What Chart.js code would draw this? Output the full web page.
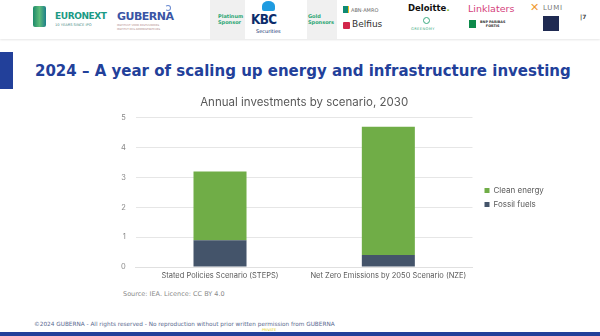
<!DOCTYPE html>
<html>
<head>
<meta charset="utf-8">
<script src="https://cdn.jsdelivr.net/npm/chart.js@4/dist/chart.umd.min.js"></script>
<style>
  html, body { margin: 0; padding: 0; }
  body { width: 600px; height: 336px; position: relative; overflow: hidden; background: #fff; font-family: "DejaVu Sans", Verdana, sans-serif; }
  .abs { position: absolute; white-space: nowrap; }
  .hdr { left: 0; top: 0; width: 600px; height: 39px; background: #fff; box-shadow: 0 1px 2px rgba(0,0,0,0.10); }
  .sponsorbox { background: #f0f0f0; color: #2aa672; font-weight: bold; font-size: 5px; line-height: 5.5px; text-align: left; }
  #title { left: 35px; top: 62px; font-size: 15px; font-weight: bold; color: #22409a; }
  #leftbar { left: 0; top: 52px; width: 13px; height: 37px; background: #22409a; }
  #chartwrap { left: 100px; top: 92px; width: 452px; height: 192px; }
  #source { left: 123px; top: 290px; font-size: 6.5px; color: #8a8a8a; }
  #footer { left: 34px; top: 321px; font-size: 5.75px; color: #5a6a90; }
  #private { left: 262px; top: 328px; font-size: 3.5px; color: #e8d200; }
  #bottombar { left: 0; top: 332px; width: 600px; height: 4px; background: #22409a; }
</style>
</head>
<body>
<div class="abs hdr"></div>
<!-- header logos, rough -->
<div class="abs" style="left:33px;top:6px;width:13px;height:21px;background:linear-gradient(90deg,#1d8a6a,#5dbb7a 50%,#1d7f8a);border-radius:2px;"></div>
<div class="abs" style="left:55px;top:11px;font-size:9px;font-weight:bold;color:#1b9a85;letter-spacing:-0.4px;">EURONEXT</div>
<div class="abs" style="left:55px;top:23px;font-size:3.6px;color:#4a8a86;">10 YEARS SINCE IPO</div>
<div class="abs" style="left:117px;top:10px;font-size:11px;font-weight:bold;color:#3a55a5;letter-spacing:-0.5px;">GUBERNA</div>
<div class="abs" style="left:117px;top:24px;font-size:2.6px;line-height:3.8px;color:#b08a8a;">INSTITUUT VOOR BESTUURDERS<br>INSTITUT DES ADMINISTRATEURS</div>
<div class="abs" style="left:165px;top:5px;width:4px;height:4px;border:1.5px solid #6a8ad0;border-radius:50%;border-left-color:transparent;"></div>
<div class="abs sponsorbox" style="left:210px;top:0;width:35px;height:39px;"><div style="padding:14px 0 0 8px;">Platinum<br>Sponsor</div></div>
<div class="abs" style="left:262px;top:1px;width:13px;height:10px;background:#1f9be0;border-radius:50% 50% 2px 2px;"></div>
<div class="abs" style="left:251px;top:13px;font-size:12px;font-weight:bold;color:#0b2d6c;letter-spacing:-0.6px;transform:scaleY(1.1);">KBC</div>
<div class="abs" style="left:256px;top:28px;font-size:5px;color:#0b2d6c;">Securities</div>
<div class="abs sponsorbox" style="left:307px;top:0;width:30px;height:39px;"><div style="padding:14px 0 0 1px;">Gold<br>Sponsors</div></div>
<div class="abs" style="left:343px;top:6px;width:5px;height:7px;background:#0e8a74;border-right:1px solid #e8c020;"></div>
<div class="abs" style="left:351px;top:7px;font-size:5px;color:#6a6a6a;">ABN·AMRO</div>
<div class="abs" style="left:343px;top:22px;width:7px;height:7px;background:#d2264a;border-radius:1px;"></div>
<div class="abs" style="left:352px;top:19px;font-size:9px;color:#333;">Belfius</div>
<div class="abs" style="left:408px;top:3px;font-size:8.5px;font-weight:bold;color:#111;">Deloitte<span style="color:#86bc25">.</span></div>
<div class="abs" style="left:423px;top:17px;width:5px;height:5px;border:1px solid #3aaa80;border-radius:50%;"></div>
<div class="abs" style="left:411px;top:26.5px;font-size:3.6px;color:#3aaa80;letter-spacing:0.4px;">GREENOMY</div>
<div class="abs" style="left:468px;top:3px;font-size:9.5px;color:#d4417b;">Linklaters</div>
<div class="abs" style="left:469px;top:20px;width:7px;height:8px;background:#0d8a4a;"></div>
<div class="abs" style="left:480px;top:20px;font-size:3.4px;line-height:4px;color:#333;font-weight:bold;text-align:center;">BNP PARIBAS<br>FORTIS</div>
<div class="abs" style="left:530px;top:1px;font-size:11px;font-weight:bold;color:#f09a30;">✕</div>
<div class="abs" style="left:543px;top:4px;font-size:7px;color:#777;letter-spacing:0.8px;">LUMI</div>
<div class="abs" style="left:543px;top:16px;width:16px;height:15px;background:#1f2a52;"></div>
<div class="abs" style="left:580px;top:13px;font-size:6px;font-weight:bold;color:#444;">|7</div>

<div class="abs" id="leftbar"></div>
<div class="abs" id="title">2024 – A year of scaling up energy and infrastructure investing</div>

<div class="abs" id="chartwrap"><canvas id="chart"></canvas></div>

<div class="abs" id="source">Source: IEA. Licence: CC BY 4.0</div>
<div class="abs" id="footer">©2024 GUBERNA - All rights reserved - No reproduction without prior written permission from GUBERNA</div>
<div class="abs" id="private">PRIVATE</div>
<div class="abs" id="bottombar"></div>

<script>
// Annual investments by scenario, 2030 (IEA) - trillion USD
const scenarios   = ["Stated Policies Scenario (STEPS)", "Net Zero Emissions by 2050 Scenario (NZE)"];
const fossilFuels = [0.9, 0.4];
const cleanEnergy = [2.3, 4.3];
const yTicks      = [0, 1, 2, 3, 4, 5];

const FONT = "Inter, 'Noto Sans', sans-serif";

const ctx = document.getElementById("chart").getContext("2d");
new Chart(ctx, {
  type: "bar",
  data: {
    labels: scenarios,
    datasets: [
      { label: "Fossil fuels", data: fossilFuels, backgroundColor: "#44546a" },
      { label: "Clean energy", data: cleanEnergy, backgroundColor: "#70ad47" },
    ],
  },
  options: {
    animation: false,
    responsive: true,
    maintainAspectRatio: false,
    layout: { padding: { left: 11, right: 0, top: 0, bottom: 0 } },
    datasets: { bar: { categoryPercentage: 1, barPercentage: 0.315 } },
    scales: {
      x: {
        stacked: true,
        grid: { display: false, drawTicks: false },
        border: { color: "#e0e0e0" },
        ticks: { color: "#595959", font: { family: FONT, size: 7.5 }, maxRotation: 0, padding: 4 },
      },
      y: {
        stacked: true,
        min: yTicks[0],
        max: yTicks[yTicks.length - 1],
        grid: { color: "#e6e6e6", drawTicks: false },
        border: { display: false },
        ticks: { stepSize: 1, color: "#8a8a8a", font: { family: FONT, size: 7.5 }, padding: 10 },
      },
      // empty axis on the right, only to keep a gap before the legend
      gap: {
        type: "linear",
        position: "right",
        grid: { display: false, drawTicks: false },
        border: { display: false },
        ticks: { display: false },
        afterFit: s => { s.width = 6; },
      },
    },
    plugins: {
      title: {
        display: true,
        fullSize: false,
        text: "Annual investments by scenario, 2030",
        color: "#595959",
        font: { family: FONT, size: 11.5, weight: "normal" },
        padding: { top: 4, bottom: 8 },
      },
      legend: {
        position: "right",
        reverse: true,
        fullSize: false,
        title: { display: true, text: " ", font: { size: 1 }, padding: { top: 0, bottom: 9 } },
        labels: { boxWidth: 5, boxHeight: 5, color: "#595959", font: { family: FONT, size: 8 }, padding: 6 },
      },
      tooltip: { enabled: false },
    },
  },
});
</script>
</body>
</html>
